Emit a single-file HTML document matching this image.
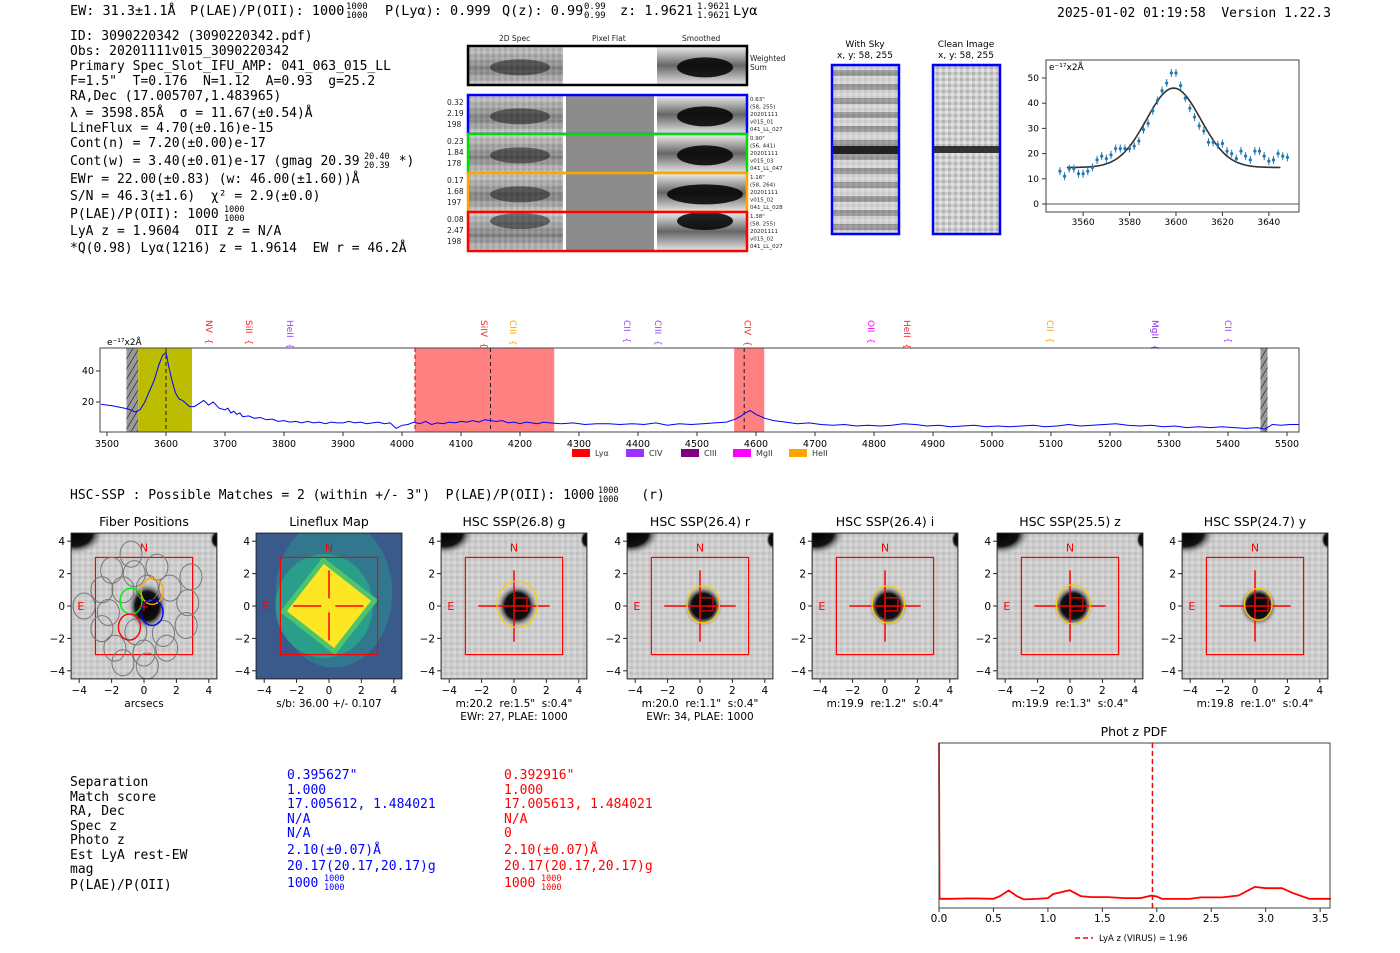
<!DOCTYPE html>
<html><head><meta charset="utf-8"><style>
html,body{margin:0;padding:0;background:#fff;}
svg{display:block;}
svg text{white-space:pre;}
.m{font-family:"DejaVu Sans Mono","Liberation Mono",monospace;}
.s{font-family:"DejaVu Sans","Liberation Sans",sans-serif;}
</style></head><body>
<svg id="root" width="1400" height="953" viewBox="0 0 1400 953" xmlns="http://www.w3.org/2000/svg" xml:space="preserve">
<defs>
<linearGradient id="band" x1="0" y1="0" x2="0" y2="1"><stop offset="0" stop-color="#c8c8c8"/><stop offset="0.45" stop-color="#777"/><stop offset="0.6" stop-color="#555"/><stop offset="1" stop-color="#c4c4c4"/></linearGradient>
<radialGradient id="blob"><stop offset="0" stop-color="#000"/><stop offset="0.6" stop-color="#111"/><stop offset="1" stop-color="#ccc" stop-opacity="0"/></radialGradient>
<linearGradient id="smooth" x1="0" y1="0" x2="0" y2="1"><stop offset="0" stop-color="#e8e8e8"/><stop offset="0.5" stop-color="#666"/><stop offset="1" stop-color="#e0e0e0"/></linearGradient>
<pattern id="stripes" width="8" height="14" patternUnits="userSpaceOnUse"><rect width="8" height="14" fill="#ddd"/><rect y="0" width="8" height="6" fill="#8a8a8a"/></pattern>
<pattern id="noise" width="6" height="6" patternUnits="userSpaceOnUse"><rect width="6" height="6" fill="#bdbdbd"/><rect width="3" height="3" fill="#9a9a9a"/><rect x="3" y="3" width="3" height="3" fill="#d8d8d8"/></pattern>
<pattern id="hatch" width="6" height="10" patternUnits="userSpaceOnUse"><rect width="6" height="10" fill="#999"/><line x1="0" y1="10" x2="6" y2="0" stroke="#333" stroke-width="0.8"/></pattern>
</defs>

<!-- header -->
<g class="m" font-size="13.5" fill="#000">
<text x="70" y="15">EW: 31.3±1.1Å</text>
<text x="190" y="15">P(LAE)/P(OII): 1000</text>
<text x="346" y="9" font-size="9">1000</text><text x="346" y="18" font-size="9">1000</text>
<text x="385" y="15">P(Lyα): 0.999</text>
<text x="502" y="15">Q(z): 0.99</text>
<text x="584" y="9" font-size="9">0.99</text><text x="584" y="18" font-size="9">0.99</text>
<text x="620" y="15">z: 1.9621</text>
<text x="697" y="9" font-size="9">1.9621</text><text x="697" y="18" font-size="9">1.9621</text>
<text x="733" y="15">Lyα</text>
<text x="1057" y="17" font-size="13">2025-01-02 01:19:58  Version 1.22.3</text>
</g>

<!-- info block -->
<g class="m" font-size="13" fill="#000">
<text x="70" y="40">ID: 3090220342 (3090220342.pdf)</text>
<text x="70" y="55">Obs: 20201111v015_3090220342</text>
<text x="70" y="70">Primary Spec_Slot_IFU_AMP: 041_063_015_LL</text>
<text x="70" y="85">F=1.5"  T=0.176  N=1.12  A=0.93  g=25.2</text>
<text x="70" y="100">RA,Dec (17.005707,1.483965)</text>
<text x="70" y="117">λ = 3598.85Å  σ = 11.67(±0.54)Å</text>
<text x="70" y="132">LineFlux = 4.70(±0.16)e-15</text>
<text x="70" y="147">Cont(n) = 7.20(±0.00)e-17</text>
<text x="70" y="165">Cont(w) = 3.40(±0.01)e-17 (gmag 20.39     *)</text>
<text x="364" y="159" font-size="8.5">20.40</text><text x="364" y="168" font-size="8.5">20.39</text>
<text x="70" y="183">EWr = 22.00(±0.83) (w: 46.00(±1.60))Å</text>
<text x="70" y="200">S/N = 46.3(±1.6)  χ² = 2.9(±0.0)</text>
<text x="70" y="218">P(LAE)/P(OII): 1000</text>
<text x="224" y="212" font-size="8.5">1000</text><text x="224" y="221" font-size="8.5">1000</text>
<text x="70" y="235">LyA z = 1.9604  OII z = N/A</text>
<text x="70" y="252">*Q(0.98) Lyα(1216) z = 1.9614  EW r = 46.2Å</text>
</g>

<!-- 2D spectra -->
<g id="spec2d">
<g class="s" font-size="7.5" fill="#222"><text x="499" y="41">2D Spec</text><text x="592" y="41">Pixel Flat</text><text x="682" y="41">Smoothed</text>
<text x="750" y="61">Weighted</text><text x="750" y="70">Sum</text></g>
</g>

<!-- sky / clean -->
<g class="s" font-size="9" fill="#000">
<text x="865" y="47" text-anchor="middle">With Sky</text><text x="865" y="58" text-anchor="middle">x, y: 58, 255</text>
<rect x="832" y="65" width="67" height="169" fill="url(#stripes)"/>
<rect x="832" y="65" width="67" height="169" fill="url(#noise)" opacity="0.3"/>
<rect x="832" y="146" width="67" height="8" fill="#222"/>
<rect x="832" y="65" width="67" height="169" fill="none" stroke="#00f" stroke-width="2.5"/>
<text x="966" y="47" text-anchor="middle">Clean Image</text><text x="966" y="58" text-anchor="middle">x, y: 58, 255</text>
<rect x="933" y="65" width="67" height="169" fill="url(#noise)" opacity="0.75"/>
<rect x="933" y="146" width="67" height="7" fill="#333"/>
<rect x="933" y="65" width="67" height="169" fill="none" stroke="#00f" stroke-width="2.5"/>
</g>

<g id="fitplot"></g>
<g id="specplot"></g>

<text class="m" x="70" y="499" font-size="13">HSC-SSP : Possible Matches = 2 (within +/- 3")  P(LAE)/P(OII): 1000      (r)</text>
<text class="m" x="598" y="493" font-size="8.5">1000</text><text class="m" x="598" y="502" font-size="8.5">1000</text>
<g id="cutouts"></g>

<!-- table -->
<g class="m" font-size="13">
<g fill="#000"><text x="70" y="786">Separation</text><text x="70" y="801">Match score</text><text x="70" y="815">RA, Dec</text><text x="70" y="830">Spec z</text><text x="70" y="844">Photo z</text><text x="70" y="859">Est LyA rest-EW</text><text x="70" y="873">mag</text><text x="70" y="889">P(LAE)/P(OII)</text></g>
<g fill="#00f"><text x="287" y="779">0.395627"</text><text x="287" y="794">1.000</text><text x="287" y="808">17.005612, 1.484021</text><text x="287" y="823">N/A</text><text x="287" y="837">N/A</text><text x="287" y="854">2.10(±0.07)Å</text><text x="287" y="870">20.17(20.17,20.17)g</text><text x="287" y="887">1000</text><text x="324" y="881" font-size="8.5">1000</text><text x="324" y="890" font-size="8.5">1000</text></g>
<g fill="#f00"><text x="504" y="779">0.392916"</text><text x="504" y="794">1.000</text><text x="504" y="808">17.005613, 1.484021</text><text x="504" y="823">N/A</text><text x="504" y="837">0</text><text x="504" y="854">2.10(±0.07)Å</text><text x="504" y="870">20.17(20.17,20.17)g</text><text x="504" y="887">1000</text><text x="541" y="881" font-size="8.5">1000</text><text x="541" y="890" font-size="8.5">1000</text></g>
</g>
<g id="pdfplot"></g>
</svg>
<script>
// ---- Line fit data ----
const fitWave = [3550,3552,3554,3556,3558,3560,3562,3564,3566,3568,3570,3572,3574,3576,3578,3580,3582,3584,3586,3588,3590,3592,3594,3596,3598,3600,3602,3604,3606,3608,3610,3612,3614,3616,3618,3620,3622,3624,3626,3628,3630,3632,3634,3636,3638,3640,3642,3644,3646,3648];
const fitFlux = [13,11,14,14,12,12,13,14.5,17.5,19,18,19.5,22,22,22,22,23,25,29.5,32,37,41,45,48,52,52,47,42,38,34.5,31,29,24.5,24.5,23.5,24,21,20,18,21,19,17.5,21,21,19,17,17.5,20,19,18.5];
const fitModel = {base:14.5, amp:31.5, center:3599, sigma:11.67};
const fitXTicks = [3560,3580,3600,3620,3640];
const fitYTicks = [0,10,20,30,40,50];
// ---- Spectrum data ----
const specWave = [3490,3510,3530,3540,3548,3556,3564,3572,3580,3588,3594,3600,3604,3610,3616,3622,3628,3634,3640,3648,3656,3664,3672,3680,3690,3700,3705,3710,3715,3720,3725,3730,3740,3750,3760,3770,3780,3790,3800,3810,3820,3830,3840,3850,3860,3870,3880,3890,3900,3910,3920,3930,3940,3950,3960,3970,3980,3990,4000,4010,4020,4030,4040,4050,4060,4070,4080,4090,4100,4110,4120,4130,4140,4150,4160,4170,4180,4190,4200,4210,4220,4230,4240,4250,4270,4290,4310,4330,4350,4370,4390,4410,4430,4450,4470,4490,4510,4530,4550,4565,4575,4582,4590,4600,4615,4630,4650,4670,4690,4710,4730,4750,4770,4790,4810,4830,4850,4870,4890,4910,4930,4950,4970,4990,5010,5030,5050,5070,5090,5110,5130,5150,5170,5190,5210,5230,5250,5270,5290,5310,5330,5350,5370,5390,5410,5430,5450,5462,5475,5490,5505,5520];
const specFlux = [18.5,17.5,16,15,13.5,15,20,27,34,44,50,52,44,34,26,22,21,19,17,17,19,21,18,20,16,15,16,13,14,12,13,10.5,11,9.5,10,8.5,9,7.5,8,7,7.5,6.5,7.5,6.5,7,6,7,6.5,6.5,7.5,6.5,7,6,6.5,7,6,6.5,3,5,5.5,7,6,7.5,5.5,6.5,6,7,6.5,7.5,7,8,7,8.5,8,7.5,8,6.5,7,6,7,6.5,6,7,6.5,6,6.5,5.5,6,6,5.5,6,5.5,6.5,5,6,5.5,6,6.5,7,9,11,13,14.5,12,9.5,8,7,6,6.5,5.5,5,5.5,4.5,5,4.5,5,6,5.5,4.5,5,4,4.5,5,4,4.5,4,4.5,5,4,4.5,5.5,4.5,5,5.5,6,5,4.5,5,4,4.5,3.5,4,3.5,4,3.5,3,3.5,2.5,5.5,5,5.5,5.5];
const specXTicks = [3500,3600,3700,3800,3900,4000,4100,4200,4300,4400,4500,4600,4700,4800,4900,5000,5100,5200,5300,5400,5500];
const specYTicks = [20,40];
const lineNames = ["NV","SiII","HeII","SiIV","CIII","CII","CIII","CIV","OII","HeII","CII","MgII","CII"];
const lineWaves = [3673,3741,3810,4139,4188,4381,4434,4586,4795,4856,5098,5276,5400];
const lineColors = ["#f22","#f22","#a040ff","#f22","orange","#a040ff","#a040ff","#f22","#f0f","#f22","orange","#8a2be2","#a040ff"];
// ---- Phot z PDF ----
const pdfZ = [0,0.005,0.1,0.3,0.5,0.56,0.64,0.72,0.78,0.9,1.0,1.05,1.12,1.2,1.3,1.4,1.55,1.7,1.85,1.95,2.0,2.05,2.3,2.4,2.6,2.75,2.82,2.9,3.0,3.15,3.25,3.4,3.6];
const pdfP = [1.0,0.056,0.056,0.058,0.056,0.072,0.106,0.07,0.052,0.055,0.06,0.085,0.095,0.108,0.072,0.066,0.066,0.06,0.06,0.075,0.07,0.055,0.055,0.064,0.064,0.076,0.1,0.128,0.12,0.12,0.09,0.056,0.056];
const pdfXTicks = [0,0.5,1,1.5,2,2.5,3,3.5];

const NS='http://www.w3.org/2000/svg';
function mk(tag, attrs, parent){const e=document.createElementNS(NS,tag);for(const k in attrs)e.setAttribute(k,attrs[k]);parent.appendChild(e);return e;}
function txt(s,attrs,parent){const e=mk('text',attrs,parent);e.textContent=s;return e;}

// ===== 2D spectra =====
(function(){
 const g=document.getElementById('spec2d');
 const rows=[{y:47,h:37,c:'#000',flat:'#fff',l:[],r:[]},
  {y:96,h:37,c:'#00f',flat:'#8c8c8c',l:['0.32','2.19','198'],r:['0.63"','(58, 255)','20201111','v015_01','041_LL_027']},
  {y:135,h:37,c:'#0d0',flat:'#8c8c8c',l:['0.23','1.84','178'],r:['0.90"','(56, 441)','20201111','v015_03','041_LL_047']},
  {y:174,h:37,c:'orange',flat:'#8c8c8c',l:['0.17','1.68','197'],r:['1.16"','(58, 264)','20201111','v015_02','041_LL_028']},
  {y:213,h:37,c:'#f00',flat:'#8c8c8c',l:['0.08','2.47','198'],r:['1.38"','(58, 255)','20201111','v015_02','041_LL_027']}];
 rows.forEach((r,i)=>{
  const a=mk('rect',{x:469,y:r.y,width:94,height:r.h,fill:'url(#band)'},g);
  
  
  mk('rect',{x:469,y:r.y,width:94,height:r.h,fill:'url(#noise)',opacity:0.45},g);
  mk('ellipse',{cx:520,cy:r.y+(i==4?8:r.h*0.55),rx:30,ry:8,fill:'#111',opacity:0.5},g);
  const f=mk('rect',{x:566,y:r.y,width:88,height:r.h,fill:r.flat},g);
  
  
  const s=mk('rect',{x:657,y:r.y,width:89,height:r.h,fill:'url(#smooth)'},g);
  
  
  mk('ellipse',{cx:705,cy:r.y+(i==4?8:r.h*0.55),rx:i==3?38:28,ry:i==4?9:10,fill:'#000',opacity:0.85},g);
  const b=mk('rect',{x:468,y:r.y-1,width:279,height:r.h+2,fill:'none',stroke:r.c,'stroke-width':2.5},g);
  
  
  r.l.forEach((t,j)=>txt(t,{x:447,y:r.y+9+j*11,'font-size':7.5,class:'s',fill:'#222'},g));
  r.r.forEach((t,j)=>txt(t,{x:750,y:r.y+5+j*7.5,'font-size':5.5,class:'s',fill:'#222'},g));
 });
})();

// ===== Fit plot =====
(function(){
 const g=document.getElementById('fitplot');
 const L=1046,R=1299,T=60,B=212;
 const xs=w=>L+(w-3544)*(R-L)/(3653-3544);
 const ys=v=>204-v*2.52;
 mk('line',{x1:L,x2:R,y1:ys(0),y2:ys(0),stroke:'#555','stroke-width':1},g);
 fitXTicks.forEach(t=>{mk('line',{x1:xs(t),x2:xs(t),y1:B,y2:B+4,stroke:'#333'},g);txt(t,{x:xs(t),y:B+13,'text-anchor':'middle','font-size':9,class:'s'},g);});
 fitYTicks.forEach(t=>{mk('line',{x1:L-4,x2:L,y1:ys(t),y2:ys(t),stroke:'#333'},g);txt(t,{x:L-7,y:ys(t)+3,'text-anchor':'end','font-size':9,class:'s'},g);});
 let d='';for(let w=3553;w<=3645;w+=0.5){const v=fitModel.base+fitModel.amp*Math.exp(-0.5*Math.pow((w-fitModel.center)/fitModel.sigma,2));d+=(d?'L':'M')+xs(w).toFixed(1)+','+ys(v).toFixed(1);}
 const fl=mk('path',{d:d,fill:'none',stroke:'#333','stroke-width':1.6},g);
 
 
 fitWave.forEach((w,i)=>{
  mk('line',{x1:xs(w),x2:xs(w),y1:ys(fitFlux[i])-4,y2:ys(fitFlux[i])+4,stroke:'#1f77b4','stroke-width':1},g);
  const p=mk('circle',{cx:xs(w),cy:ys(fitFlux[i]),r:1.6,fill:'#1f77b4'},g);
  
  
 });
 mk('rect',{x:L,y:T,width:R-L,height:B-T,fill:'none',stroke:'#444','stroke-width':1},g);
 txt('e⁻¹⁷x2Å',{x:L+3,y:T+10,'font-size':9,class:'s'},g);
})();

// ===== Spectrum =====
(function(){
 const g=document.getElementById('specplot');
 const L=100,R=1299,T=348,B=432;
 const xs=w=>107+(w-3500)*(1287-107)/2000;
 const ys=v=>433-v*1.55;
 const band=(a,b,fill,op)=>mk('rect',{x:xs(a),y:T,width:xs(b)-xs(a),height:B-T,fill:fill,opacity:op},g);
 let r=band(3533,3553,'url(#hatch)',1);
 r=band(3553,3644,'#bcbc00',1);
 r=band(4022,4258,'#ff6a6a',0.85);
 r=band(4563,4614,'#ff6a6a',0.85);
 r=band(5455,5467,'url(#hatch)',1);
 mk('line',{x1:xs(4022),x2:xs(4022),y1:T,y2:B,stroke:'#c00','stroke-dasharray':'4,3'},g);
 [3600,4150,4580].forEach(w=>mk('line',{x1:xs(w),x2:xs(w),y1:T,y2:B,stroke:'#222','stroke-dasharray':'4,3'},g));
 let d='';specWave.forEach((w,i)=>{d+=(i?'L':'M')+xs(w).toFixed(1)+','+ys(specFlux[i]).toFixed(1);});
 const sp=mk('path',{d:d,fill:'none',stroke:'#00f','stroke-width':1},g);
 
 
 mk('rect',{x:L,y:T,width:R-L,height:B-T,fill:'none',stroke:'#444'},g);
 specXTicks.forEach(t=>{mk('line',{x1:xs(t),x2:xs(t),y1:B,y2:B+4,stroke:'#333'},g);txt(t,{x:xs(t),y:B+15,'text-anchor':'middle','font-size':9.5,class:'s'},g);});
 specYTicks.forEach(t=>{mk('line',{x1:L-4,x2:L,y1:ys(t),y2:ys(t),stroke:'#333'},g);txt(t,{x:L-6,y:ys(t)+3,'text-anchor':'end','font-size':9.5,class:'s'},g);});
 txt('e⁻¹⁷x2Å',{x:107,y:345,'font-size':9,class:'s'},g);
 lineNames.forEach((n,i)=>{
  const x=xs(lineWaves[i]);
  const t=txt(n+'  {',{x:0,y:0,'font-size':9,class:'s',fill:lineColors[i],transform:`translate(${(x-3).toFixed(1)},320) rotate(90)`},g);
  
  
 });
 const leg=[['Lyα','#f00'],['CIV','#9b30ff'],['CIII','#800080'],['MgII','#f0f'],['HeII','orange']];
 const lx=[572,626,681,733,789];
 leg.forEach((l,i)=>{const s=mk('rect',{x:lx[i],y:449,width:18,height:8,fill:l[1]},g);txt(l[0],{x:lx[i]+23,y:456,'font-size':8,class:'s',fill:'#333'},g);});
})();

// ===== Cutouts =====
(function(){
 const g=document.getElementById('cutouts');
 const defs=document.querySelector('defs');
 const centers=[144,329,514,700,885,1070,1255];
 const titles=['Fiber Positions','Lineflux Map','HSC SSP(26.8) g','HSC SSP(26.4) r','HSC SSP(26.4) i','HSC SSP(25.5) z','HSC SSP(24.7) y'];
 const sub1=['arcsecs','s/b: 36.00 +/- 0.107','m:20.2  re:1.5"  s:0.4"','m:20.0  re:1.1"  s:0.4"','m:19.9  re:1.2"  s:0.4"','m:19.9  re:1.3"  s:0.4"','m:19.8  re:1.0"  s:0.4"'];
 const sub2=['','','EWr: 27, PLAE: 1000','EWr: 34, PLAE: 1000','','',''];
 const ell=[0,0,1.25,1.0,1.0,1.05,0.85];
 const u=16.2, cy0=606;
 centers.forEach((cx,i)=>{
  const X=v=>cx+v*u, Y=v=>cy0-v*u;
  const cp=mk('clipPath',{id:'cp'+i},defs);
  mk('rect',{x:X(-4.5),y:Y(4.5),width:9*u,height:9*u},cp);
  const p=mk('g',{},g);
  
  
  const im=mk('g',{'clip-path':'url(#cp'+i+')'},p);
  if(i==1){
   mk('rect',{x:X(-4.5),y:Y(4.5),width:9*u,height:9*u,fill:'#3b5a8c'},im);
   mk('ellipse',{cx:X(0.3),cy:Y(0.8),rx:3.6*u,ry:4.6*u,fill:'#2f7f8e',opacity:0.8},im);
   mk('ellipse',{cx:X(-0.3),cy:Y(0),rx:3.0*u,ry:3.2*u,fill:'#28a88a',opacity:0.8},im);
   mk('rect',{x:X(-2.0),y:Y(2.0),width:4.0*u,height:4.0*u,fill:'#fde725',stroke:'#4fc46a','stroke-width':5,transform:`rotate(38 ${X(0)} ${Y(0)})`},im);
  } else {
   mk('rect',{x:X(-4.5),y:Y(4.5),width:9*u,height:9*u,fill:'#d6d6d6'},im);
   mk('rect',{x:X(-4.5),y:Y(4.5),width:9*u,height:9*u,fill:'url(#noise)',opacity:0.35},im);
   mk('ellipse',{cx:X(-4.3),cy:Y(4.5),rx:30,ry:22,fill:'url(#blob)'},im);
   mk('ellipse',{cx:X(4.5),cy:Y(4.1),rx:7,ry:10,fill:'url(#blob)'},im);
   mk('ellipse',{cx:X(0.2),cy:Y(0),rx:i==0?20:(16+ell[i]*4),ry:i==0?24:(17+ell[i]*4),fill:'url(#blob)'},im);
  }
  txt('N',{x:X(0),y:Y(3.6)+4,'text-anchor':'middle','font-size':11,fill:'#f00',class:'s'},p);
  txt('E',{x:X(-3.9),y:Y(0)+4,'text-anchor':'middle','font-size':11,fill:'#f00',class:'s'},p);
  mk('rect',{x:X(-3),y:Y(3),width:6*u,height:6*u,fill:'none',stroke:'#f00','stroke-width':1.2},p);
  if(i==0){
   const fx=[-0.8,-2.0,-0.6,0.8,-2.6,-1.3,0.2,1.6,2.9,-3.7,-2.2,2.7,-2.6,-0.5,1.2,2.6,-1.8,0.0,1.4,0.2,-1.3];
   const fy=[3.2,2.2,2.0,2.4,1.0,1.0,1.1,1.1,1.8,0.0,-0.4,0.2,-1.4,-1.6,-1.7,-1.2,-2.6,-2.9,-2.6,-3.7,-3.5];
   fx.forEach((x,k)=>mk('ellipse',{cx:X(x),cy:Y(fy[k]),rx:11,ry:13,fill:'none',stroke:'#777','stroke-width':1},p));
   [[-0.8,0.3,'#0e0'],[0.5,0.9,'orange'],[0.5,-0.4,'#00f'],[-0.9,-1.3,'#f00']].forEach(c=>mk('ellipse',{cx:X(c[0]),cy:Y(c[1]),rx:11,ry:13,fill:'none',stroke:c[2],'stroke-width':1.4},p));
   txt('+',{x:X(0),y:Y(0)+5,'text-anchor':'middle','font-size':13,fill:'#f00',class:'s'},p);
  } else {
   mk('line',{x1:X(-2.2),x2:X(2.2),y1:Y(0),y2:Y(0),stroke:'#f00','stroke-width':1.5,'stroke-dasharray':i==1?'28,14':'none'},p);
   mk('line',{x1:X(0),x2:X(0),y1:Y(2.2),y2:Y(-2.2),stroke:'#f00','stroke-width':1.5,'stroke-dasharray':i==1?'28,14':'none'},p);
   if(i>1){
    mk('rect',{x:X(0),y:Y(0.5),width:0.8*u,height:0.8*u,fill:'none',stroke:'#f00','stroke-width':1.2},p);
    mk('ellipse',{cx:X(0.2),cy:Y(0.1),rx:ell[i]*u,ry:ell[i]*1.15*u,fill:'none',stroke:'#fc0','stroke-width':1.3},p);
   }
  }
  mk('rect',{x:X(-4.5),y:Y(4.5),width:9*u,height:9*u,fill:'none',stroke:'#222'},p);
  [-4,-2,0,2,4].forEach(t=>{
   mk('line',{x1:X(t),x2:X(t),y1:Y(-4.5),y2:Y(-4.5)+4,stroke:'#222'},p);
   txt(t<0?'−'+(-t):String(t),{x:X(t),y:Y(-4.5)+15,'text-anchor':'middle','font-size':10.5,class:'s'},p);
   mk('line',{x1:X(-4.5)-4,x2:X(-4.5),y1:Y(t),y2:Y(t),stroke:'#222'},p);
   txt(t<0?'−'+(-t):String(t),{x:X(-4.5)-6,y:Y(t)+4,'text-anchor':'end','font-size':10.5,class:'s'},p);
  });
  const tt=txt(titles[i],{x:cx,y:526,'text-anchor':'middle','font-size':12.5,class:'s'},p);
  
  
  txt(sub1[i],{x:cx,y:707,'text-anchor':'middle','font-size':10.5,class:'s'},p);
  if(sub2[i])txt(sub2[i],{x:cx,y:720,'text-anchor':'middle','font-size':10.5,class:'s'},p);
 });
})();

// ===== PDF =====
(function(){
 const g=document.getElementById('pdfplot');
 const L=939,R=1330,T=743,B=908;
 const xs=z=>L+z*108.9, ys=p=>B-p*(B-T);
 txt('Phot z PDF',{x:1134,y:736,'text-anchor':'middle','font-size':12.5,class:'s'},g);
 let d='';pdfZ.forEach((z,i)=>{d+=(i?'L':'M')+xs(z).toFixed(1)+','+ys(pdfP[i]).toFixed(1);});
 const pl=mk('path',{d:d,fill:'none',stroke:'#f00','stroke-width':1.8},g);
 
 
 const zl=mk('line',{x1:xs(1.96),x2:xs(1.96),y1:T,y2:B,stroke:'#f00','stroke-width':1.5,'stroke-dasharray':'5,3'},g);
 
 
 mk('rect',{x:L,y:T,width:R-L,height:B-T,fill:'none',stroke:'#444'},g);
 pdfXTicks.forEach(t=>{mk('line',{x1:xs(t),x2:xs(t),y1:B,y2:B+4,stroke:'#333'},g);txt(t.toFixed(1),{x:xs(t),y:B+14,'text-anchor':'middle','font-size':10.5,class:'s'},g);});
 mk('line',{x1:1075,x2:1093,y1:938,y2:938,stroke:'#f00','stroke-width':1.5,'stroke-dasharray':'5,3'},g);
 const lg=txt('LyA z (VIRUS) = 1.96',{x:1099,y:941,'font-size':8.5,class:'s'},g);
 
 
})();
</script>
</body></html>
